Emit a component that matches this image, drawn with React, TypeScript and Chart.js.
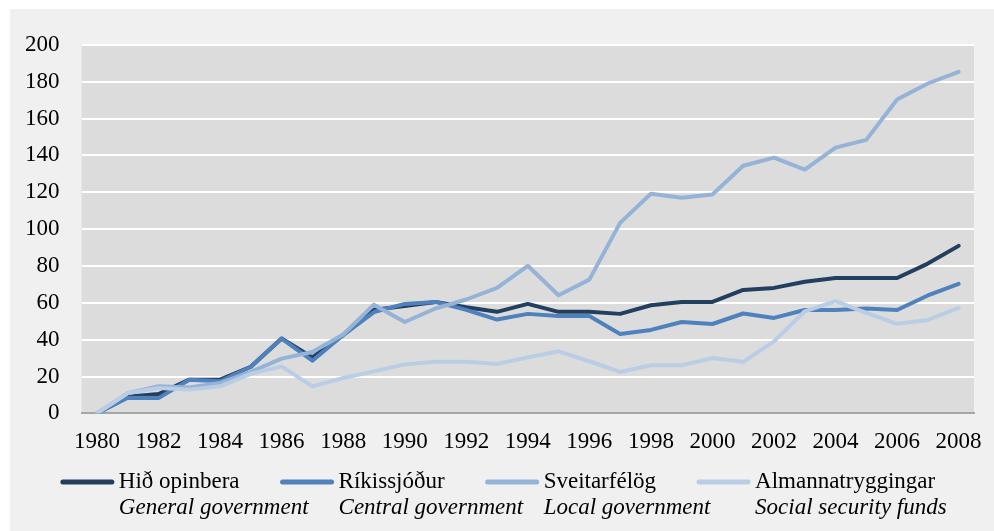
import React, { useEffect, useRef } from "react";
import { Chart, registerables } from "chart.js";

Chart.register(...registerables);

const years = [
  "1980", "1981", "1982", "1983", "1984", "1985", "1986", "1987", "1988", "1989",
  "1990", "1991", "1992", "1993", "1994", "1995", "1996", "1997", "1998", "1999",
  "2000", "2001", "2002", "2003", "2004", "2005", "2006", "2007", "2008",
];

const xTickLabels = [
  "1980", "1982", "1984", "1986", "1988", "1990", "1992", "1994",
  "1996", "1998", "2000", "2002", "2004", "2006", "2008",
];

const hidOpinbera = [
  0, 9, 10.5, 18.3, 18.3, 25.3, 40.6, 30.4, 42.5, 56.3, 58.2, 60.5, 57.6, 55.1, 59.4,
  55.1, 55.1, 54, 58.7, 60.5, 60.5, 67, 68.1, 71.4, 73.5, 73.5, 73.5, 81.3, 90.9,
];

const rikissjodur = [
  0, 8.5, 8.3, 18.3, 17.4, 25.3, 40.6, 28.6, 42.5, 55, 59.4, 60.5, 56.2, 50.9, 54,
  52.9, 52.9, 43.1, 45.3, 49.6, 48.5, 54.2, 51.8, 56.1, 56.1, 56.9, 56.1, 64, 70.3,
];

const sveitarfelog = [
  0, 11, 14.7, 14, 16.5, 22.5, 29.7, 33.3, 42.8, 59, 49.6, 56.9, 61.8, 68.1, 80.1,
  64.1, 72.6, 103.4, 119.2, 117, 118.8, 134.4, 138.8, 132.3, 144.2, 148.4, 170.3, 179, 185.3,
];

const almannatryggingar = [
  0, 11, 13.8, 12.9, 14.7, 21.5, 25.5, 14.7, 19.2, 22.8, 26.6, 28, 28, 26.8, 30.4,
  33.7, 28.3, 22.5, 26.1, 26.1, 30, 28, 39.1, 55.4, 60.9, 54.5, 48.6, 50.7, 57.2,
];

const seriesNames = ["Hið opinbera", "Ríkissjóður", "Sveitarfélög", "Almannatryggingar"];
const seriesNamesEn = ["General government", "Central government", "Local government", "Social security funds"];
const seriesColors = ["#233f60", "#4f81bd", "#95b3d7", "#b9cde5"];
const seriesValues = [hidOpinbera, rikissjodur, sveitarfelog, almannatryggingar];

const FONT = "'Liberation Serif', 'Times New Roman', serif";
const FONT_SIZE = 23;

const bgPlugin = {
  id: "bgPlugin",
  beforeDraw(chart: any) {
    const { ctx, chartArea: a, width, height } = chart;
    ctx.save();
    ctx.fillStyle = "#f0f0f0";
    ctx.fillRect(0, 0, width, height);
    ctx.fillStyle = "#dcdcdc";
    ctx.fillRect(a.left, a.top, a.right - a.left, a.bottom - a.top);
    ctx.restore();
  },
};

const legendPlugin = {
  id: "customLegend",
  afterDraw(chart: any) {
    const { ctx, width } = chart;
    ctx.save();
    ctx.font = `${FONT_SIZE}px ${FONT}`;
    const sample = 53;
    const gap = 5;
    const spacing = 41;
    const widths = seriesNames.map((n) => ctx.measureText(n).width);
    const total = widths.reduce((s, w) => s + sample + gap + w, 0) + spacing * (seriesNames.length - 1);
    let x = (width - total) / 2 - 4;
    const y1 = 473;
    const y2 = 499;
    seriesNames.forEach((name, i) => {
      ctx.strokeStyle = seriesColors[i];
      ctx.lineWidth = 5;
      ctx.lineCap = "round";
      ctx.beginPath();
      ctx.moveTo(x + 2, y1);
      ctx.lineTo(x + sample - 2, y1);
      ctx.stroke();
      ctx.fillStyle = "#000";
      ctx.textBaseline = "middle";
      ctx.textAlign = "left";
      ctx.font = `${FONT_SIZE}px ${FONT}`;
      ctx.fillText(name, x + sample + gap, y1);
      ctx.font = `italic ${FONT_SIZE}px ${FONT}`;
      ctx.fillText(seriesNamesEn[i], x + sample + gap, y2);
      x += sample + gap + widths[i] + spacing;
    });
    ctx.restore();
  },
};

export default function App() {
  const ref = useRef<HTMLCanvasElement | null>(null);

  useEffect(() => {
    if (!ref.current) return;
    const chart = new Chart(ref.current, {
      type: "line",
      data: {
        labels: years,
        datasets: seriesNames.map((name, i) => ({
          label: name,
          data: seriesValues[i],
          borderColor: seriesColors[i],
          backgroundColor: seriesColors[i],
          borderWidth: 4,
          pointRadius: 0,
          tension: 0,
          fill: false,
          borderJoinStyle: "round" as const,
          borderCapStyle: "round" as const,
          order: seriesNames.length - i,
        })),
      },
      options: {
        animation: false,
        responsive: false,
        layout: { padding: { left: 14, right: 20, top: 35, bottom: 60 } },
        plugins: {
          legend: { display: false },
          tooltip: { enabled: false },
        },
        scales: {
          x: {
            type: "category",
            offset: true,
            grid: { display: false, drawTicks: false },
            border: { display: true, color: "#a6a6a6", width: 2 },
            ticks: {
              autoSkip: false,
              maxRotation: 0,
              padding: 15,
              color: "#000",
              font: { family: FONT, size: FONT_SIZE },
              callback: (_v: any, i: number) => (xTickLabels.includes(years[i]) ? years[i] : ""),
            },
            afterFit: (scale: any) => {
              scale.paddingLeft = 0;
              scale.paddingRight = 0;
            },
          },
          y: {
            min: 0,
            max: 200,
            ticks: {
              stepSize: 20,
              padding: 22,
              color: "#000",
              font: { family: FONT, size: FONT_SIZE },
            },
            grid: {
              color: (c: any) => (c.tick && c.tick.value === 0 ? "rgba(0,0,0,0)" : "#ffffff"),
              lineWidth: 2,
              drawTicks: false,
            },
            border: { display: false },
            afterFit: (scale: any) => {
              scale.width = 57.6;
            },
          },
        },
      },
      plugins: [bgPlugin, legendPlugin],
    });
    return () => chart.destroy();
  }, []);

  return (
    <div style={{ position: "absolute", left: 10, top: 9, width: 984, height: 522 }}>
      <canvas ref={ref} width={984} height={522} style={{ display: "block", width: 984, height: 522 }} />
    </div>
  );
}
